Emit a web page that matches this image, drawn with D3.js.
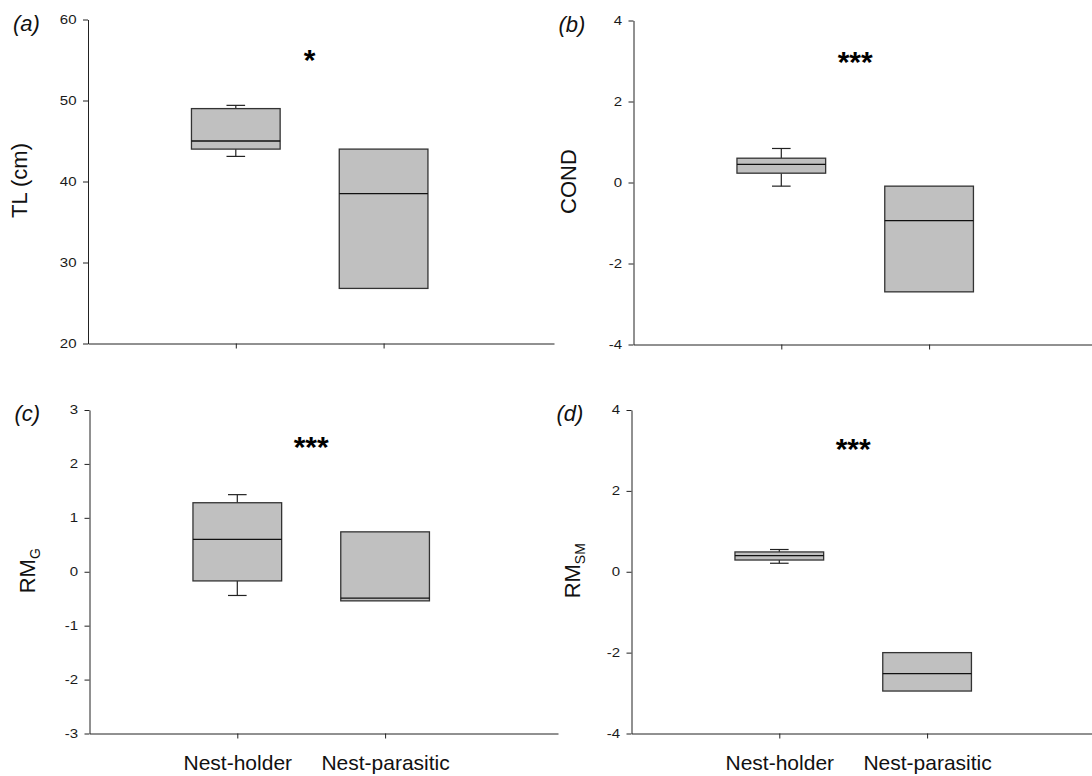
<!DOCTYPE html>
<html>
<head>
<meta charset="utf-8">
<script src="https://cdn.jsdelivr.net/npm/d3@7"></script>
<style>
  body { margin: 0; background: #fff; }
  svg { display: block; font-family: "Liberation Sans", Arial, sans-serif; }
</style>
</head>
<body>
<svg id="chart" width="1092" height="776"></svg>
<script>
// groups on the x axis
var groups = ["Nest-holder", "Nest-parasitic"];

// box values per group: [lower whisker, q1, median, q3, upper whisker] (null = no whisker)
var tlBoxes   = [[43.1, 44.0, 45.0, 49.0, 49.4], [null, 26.8, 38.5, 44.0, null]];
var condBoxes = [[-0.09, 0.23, 0.45, 0.60, 0.84], [null, -2.70, -0.94, -0.09, null]];
var rmgBoxes  = [[-0.44, -0.17, 0.60, 1.28, 1.43], [null, -0.54, -0.49, 0.74, null]];
var rmsmBoxes = [[0.21, 0.29, 0.40, 0.49, 0.55], [null, -2.95, -2.52, -2.00, null]];

// y axis ticks per panel
var tlTicks   = [20, 30, 40, 50, 60];
var condTicks = [-4, -2, 0, 2, 4];
var rmgTicks  = [-3, -2, -1, 0, 1, 2, 3];
var rmsmTicks = [-4, -2, 0, 2, 4];

// significance stars: [text, y value of the star centre]
var tlStar   = ["*", 55.3];
var condStar = ["***", 3.05];
var rmgStar  = ["***", 2.37];
var rmsmStar = ["***", 3.1];

var panels = [
  {tag: "(a)", label: "TL (cm)", sub: null, boxes: tlBoxes, ticks: tlTicks, star: tlStar,
   left: 88, right: 554, top: 19.5, bottom: 343.5, labelX: 27, showNames: false},
  {tag: "(b)", label: "COND", sub: null, boxes: condBoxes, ticks: condTicks, star: condStar,
   left: 633.5, right: 1092, top: 20.5, bottom: 344.5, labelX: 576, showNames: false},
  {tag: "(c)", label: "RM", sub: "G", boxes: rmgBoxes, ticks: rmgTicks, star: rmgStar,
   left: 89.5, right: 558, top: 410, bottom: 733.5, labelX: 35, showNames: true},
  {tag: "(d)", label: "RM", sub: "SM", boxes: rmsmBoxes, ticks: rmsmTicks, star: rmsmStar,
   left: 631.5, right: 1092, top: 410, bottom: 733.5, labelX: 579.5, showNames: true}
];

var svg = d3.select("#chart");
var step = 147.8;      // px between the two groups
var halfBox = 0.3;     // half box width, x units
var halfCap = 0.063;   // half whisker cap width, x units

panels.forEach(function(p){
    var x = d3.scaleLinear()
              .domain([0, (p.right - p.left) / step])
              .range([p.left, p.right]);
    var ext = d3.extent(p.ticks);
    var y = d3.scaleLinear()
              .domain(ext)
              .range([p.bottom, p.top]);

    var g = svg.append("g");

    // y axis
    var yAxis = g.append("g")
        .attr("transform", "translate(" + p.left + ",0)")
        .call(d3.axisLeft(y).tickValues(p.ticks).tickSize(5).tickSizeOuter(0)
              .tickFormat(function(d){ return String(d); }));
    yAxis.select(".domain").attr("stroke", "#222");
    yAxis.selectAll(".tick line").attr("stroke", "#222");
    yAxis.selectAll(".tick text")
        .attr("font-family", "Liberation Sans, Arial, sans-serif")
        .attr("font-size", 12)
        .attr("fill", "#1a1a1a")
        .attr("x", -11.5 / 1.25)
        .attr("transform", "scale(1.25,1)");

    // x axis
    var xAxis = g.append("g")
        .attr("transform", "translate(0," + p.bottom + ")")
        .call(d3.axisBottom(x).tickValues([1, 2]).tickSize(5).tickSizeOuter(0).tickPadding(17)
              .tickFormat(function(d){ return p.showNames ? groups[d - 1] : ""; }));
    xAxis.select(".domain").attr("stroke", "#222");
    xAxis.selectAll(".tick line").attr("stroke", "#222");
    xAxis.selectAll(".tick text")
        .attr("font-family", "Liberation Sans, Arial, sans-serif")
        .attr("font-size", 21)
        .attr("fill", "#111");

    // boxes
    p.boxes.forEach(function(b, i){
        var c = i + 1;
        var bg = g.append("g");
        if (b[4] !== null) {
            bg.append("line").attr("x1", x(c)).attr("x2", x(c))
              .attr("y1", y(b[3])).attr("y2", y(b[4]))
              .attr("stroke", "#222").attr("stroke-width", 1.2);
            bg.append("line").attr("x1", x(c - halfCap)).attr("x2", x(c + halfCap))
              .attr("y1", y(b[4])).attr("y2", y(b[4]))
              .attr("stroke", "#222").attr("stroke-width", 1.2);
        }
        if (b[0] !== null) {
            bg.append("line").attr("x1", x(c)).attr("x2", x(c))
              .attr("y1", y(b[1])).attr("y2", y(b[0]))
              .attr("stroke", "#222").attr("stroke-width", 1.2);
            bg.append("line").attr("x1", x(c - halfCap)).attr("x2", x(c + halfCap))
              .attr("y1", y(b[0])).attr("y2", y(b[0]))
              .attr("stroke", "#222").attr("stroke-width", 1.2);
        }
        bg.append("rect")
          .attr("x", x(c - halfBox))
          .attr("y", y(b[3]))
          .attr("width", x(c + halfBox) - x(c - halfBox))
          .attr("height", y(b[1]) - y(b[3]))
          .attr("fill", "#c0c0c0")
          .attr("stroke", "#333")
          .attr("stroke-width", 1.3);
        bg.append("line")
          .attr("x1", x(c - halfBox)).attr("x2", x(c + halfBox))
          .attr("y1", y(b[2])).attr("y2", y(b[2]))
          .attr("stroke", "#111").attr("stroke-width", 1.3);
    });

    // significance stars
    g.append("text")
      .attr("x", x(1.5))
      .attr("y", y(p.star[1]))
      .attr("dy", "0.42em")
      .attr("text-anchor", "middle")
      .attr("font-size", 30)
      .attr("font-weight", "bold")
      .attr("fill", "#000")
      .text(p.star[0]);

    // y axis title
    var cy = (p.top + p.bottom) / 2 - 1;
    var t = g.append("text")
      .attr("transform", "translate(" + p.labelX + "," + cy + ") rotate(-90)")
      .attr("text-anchor", "middle")
      .attr("font-size", 22)
      .attr("fill", "#111");
    t.append("tspan").text(p.label);
    if (p.sub) {
        t.append("tspan").attr("font-size", 14).attr("dy", 5).text(p.sub);
    }

    // panel tag
    g.append("text")
      .attr("x", p.left - 75)
      .attr("y", p.top + 11)
      .attr("font-size", 22)
      .attr("font-style", "italic")
      .attr("fill", "#111")
      .text(p.tag);
});
</script>
</body>
</html>
